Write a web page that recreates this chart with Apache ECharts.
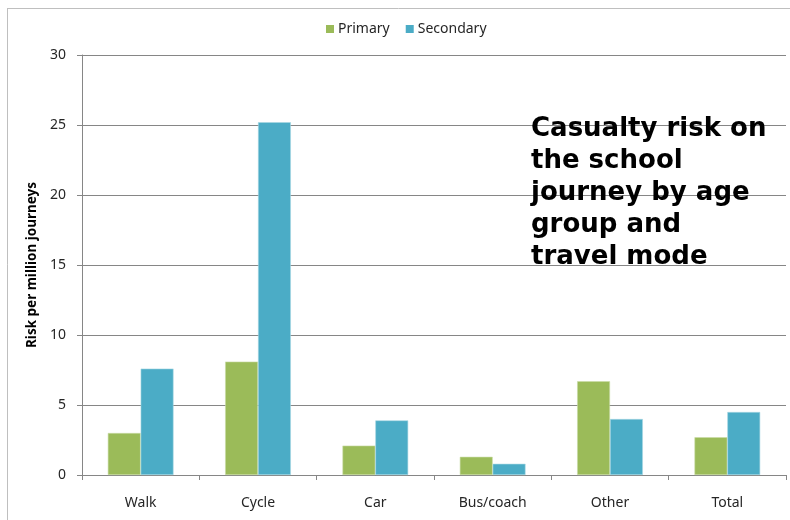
<!DOCTYPE html>
<html>
<head>
<meta charset="utf-8">
<script src="https://cdn.jsdelivr.net/npm/echarts@6/dist/echarts.min.js"></script>
<style>
  html, body { margin: 0; padding: 0; background: #ffffff; }
  #chart { width: 790px; height: 520px; }
</style>
</head>
<body>
<div id="chart"></div>
<script>
// Travel modes on the school journey
const categories = ['Walk', 'Cycle', 'Car', 'Bus/coach', 'Other', 'Total'];
// Casualty risk per million journeys
const primary = [3.0, 8.1, 2.1, 1.3, 6.7, 2.7];
const secondary = [7.6, 25.2, 3.9, 0.8, 4.0, 4.5];
const seriesNames = ['Primary', 'Secondary'];
const yTicks = { min: 0, max: 30, interval: 5 };

const chart = echarts.init(document.getElementById('chart'), null, { renderer: 'canvas' });
const labelFont = '"Noto Sans", "Open Sans", sans-serif';

chart.setOption({
  animation: false,
  backgroundColor: '#ffffff',
  title: {
    text: 'Casualty risk on\nthe school\njourney by age\ngroup and\ntravel mode',
    left: 526,
    top: 108,
    textStyle: {
      fontFamily: '"DejaVu Sans", Verdana, sans-serif',
      fontWeight: 'bold',
      fontSize: 26,
      lineHeight: 32,
      color: '#000000'
    }
  },
  legend: {
    top: 17,
    left: 321,
    itemWidth: 8,
    itemHeight: 8,
    itemGap: 16,
    icon: 'rect',
    itemStyle: { borderWidth: 0 },
    textStyle: { fontFamily: labelFont, fontSize: 14, color: '#262626', padding: [0, 0, 0, -1] },
    data: seriesNames
  },
  grid: { left: 82, right: 4, top: 55, bottom: 45, containLabel: false },
  xAxis: {
    type: 'category',
    data: categories,
    axisLine: { lineStyle: { color: '#868686', width: 1 } },
    axisTick: { show: true, length: 5, lineStyle: { color: '#868686' } },
    axisLabel: { fontFamily: labelFont, fontSize: 14, color: '#262626', margin: 21 }
  },
  yAxis: {
    type: 'value',
    min: yTicks.min,
    max: yTicks.max,
    interval: yTicks.interval,
    name: 'Risk per million journeys',
    nameLocation: 'middle',
    nameRotate: 90,
    nameGap: 42,
    nameTextStyle: { fontFamily: labelFont, fontWeight: 'bold', fontSize: 13.5, color: '#000000' },
    axisLine: { show: true, lineStyle: { color: '#868686', width: 1 } },
    axisTick: { show: true, length: 5, lineStyle: { color: '#868686' } },
    axisLabel: { fontFamily: labelFont, fontSize: 14, color: '#262626', margin: 16 },
    splitLine: { lineStyle: { color: '#868686', width: 1 } }
  },
  graphic: [
    { type: 'line', shape: { x1: 7.5, y1: 8.5, x2: 7.5, y2: 520 }, style: { stroke: '#bfbfbf', lineWidth: 1 }, silent: true },
    { type: 'line', shape: { x1: 7, y1: 8.5, x2: 790, y2: 8.5 }, style: { stroke: '#bfbfbf', lineWidth: 1 }, silent: true }
  ],
  series: [
    {
      name: seriesNames[0],
      type: 'bar',
      data: primary,
      barGap: '0%',
      barCategoryGap: '44%',
      itemStyle: { color: '#9BBB59', borderColor: '#c9dca6', borderWidth: 0.6 }
    },
    {
      name: seriesNames[1],
      type: 'bar',
      data: secondary,
      barGap: '0%',
      barCategoryGap: '44%',
      itemStyle: { color: '#4BACC6', borderColor: '#a7d6e3', borderWidth: 0.6 }
    }
  ]
});
</script>
</body>
</html>
